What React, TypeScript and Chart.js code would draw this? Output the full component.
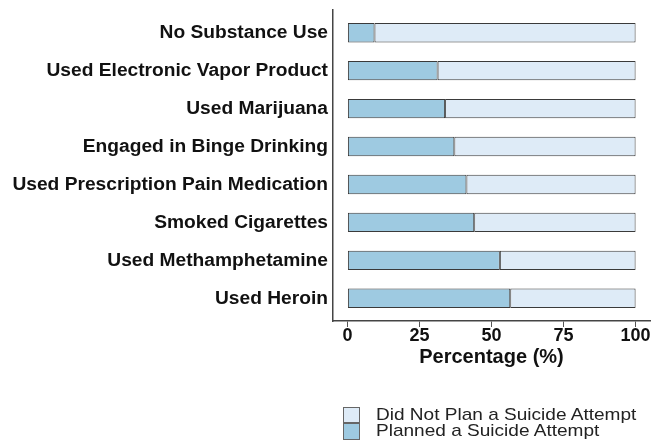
import React, { useEffect, useRef } from "react";
import { Chart, registerables } from "chart.js";

Chart.register(...registerables);

const categories = [
  "No Substance Use",
  "Used Electronic Vapor Product",
  "Used Marijuana",
  "Engaged in Binge Drinking",
  "Used Prescription Pain Medication",
  "Smoked Cigarettes",
  "Used Methamphetamine",
  "Used Heroin",
];
const planned = [9.4, 31.3, 33.9, 37.1, 41.3, 44.0, 52.9, 56.5];
const notPlanned = planned.map((v) => Math.round((100 - v) * 10) / 10);
const xTicks = [0, 25, 50, 75, 100];
const seriesNames = ["Planned a Suicide Attempt", "Did Not Plan a Suicide Attempt"];
const seriesColors = ["#9ecae1", "#deebf7"];

const FONT = "'Liberation Sans', Arial, sans-serif";

export default function App() {
  const ref = useRef<HTMLCanvasElement>(null);
  useEffect(() => {
    const ctx = ref.current!;
    const chart = new Chart(ctx, {
      type: "bar",
      data: {
        datasets: [
          {
            label: seriesNames[0],
            data: planned.map((v, i) => ({ x: v, y: i })),
            backgroundColor: seriesColors[0],
            borderColor: "#3a3a3a",
            borderWidth: 1,
            borderSkipped: false,
          },
          {
            label: seriesNames[1],
            data: notPlanned.map((v, i) => ({ x: v, y: i })),
            backgroundColor: seriesColors[1],
            borderColor: "#3a3a3a",
            borderWidth: 1,
            borderSkipped: false,
          },
        ],
      },
      options: {
        indexAxis: "y",
        responsive: false,
        animation: false,
        layout: { padding: { top: 10, right: 2, bottom: 74, left: 0 } },
        datasets: { bar: { categoryPercentage: 1, barPercentage: 0.51 } },
        plugins: { legend: { display: false }, tooltip: { enabled: false } },
        scales: {
          x: {
            type: "linear",
            stacked: true,
            min: -5,
            max: 105,
            afterBuildTicks: (scale: any) => {
              scale.ticks = xTicks.map((v) => ({ value: v }));
            },
            afterFit: (scale: any) => {
              scale.paddingLeft = 0;
              scale.paddingRight = 0;
            },
            grid: { drawOnChartArea: false, drawTicks: true, tickLength: 6, color: "#555" },
            border: { display: true, color: "#444", width: 1.5 },
            ticks: {
              padding: 0,
              color: "#111",
              font: { family: FONT, size: 18, weight: "bold", lineHeight: 1 },
              maxRotation: 0,
            },
            title: {
              display: true,
              text: "Percentage (%)",
              color: "#111",
              padding: { top: 0, bottom: 0 },
              font: { family: FONT, size: 20, weight: "bold" },
            },
          },
          y: {
            type: "linear",
            stacked: true,
            reverse: true,
            offset: false,
            min: -0.6,
            max: 7.6,
            afterBuildTicks: (scale: any) => {
              scale.ticks = categories.map((_, i) => ({ value: i }));
            },
            afterFit: (scale: any) => {
              scale.width = 333;
              scale.paddingTop = 0;
              scale.paddingBottom = 0;
            },
            grid: { display: false, drawTicks: false },
            border: { display: true, color: "#444", width: 1.5 },
            ticks: {
              padding: 5,
              autoSkip: false,
              color: "#111",
              font: { family: FONT, size: 19.2, weight: "bold" },
              callback: (v: any) => categories[v as number] ?? "",
            },
          },
        },
      },
    });
    return () => chart.destroy();
  }, []);

  const legendItems = [1, 0];
  return (
    <div style={{ position: "absolute", left: 0, top: 0, width: 652, height: 443, background: "#fff" }}>
      <canvas ref={ref} width={652} height={443} style={{ width: 652, height: 443, display: "block" }} />
      <div style={{ position: "absolute", left: 343, top: 407, fontFamily: FONT, fontSize: 17, color: "#222" }}>
        {legendItems.map((i) => (
          <div key={i} style={{ display: "flex", alignItems: "flex-start", height: 16 }}>
            <div
              style={{
                width: 17,
                height: i === 1 ? 16 : 17,
                background: seriesColors[i],
                border: "1px solid #666",
                boxSizing: "border-box",
                marginRight: 16,
              }}
            />
            <span
              style={{
                lineHeight: "16px",
                whiteSpace: "nowrap",
                display: "inline-block",
                transform: "scaleX(1.12)",
                transformOrigin: "left center",
              }}
            >
              {seriesNames[i]}
            </span>
          </div>
        ))}
      </div>
    </div>
  );
}
